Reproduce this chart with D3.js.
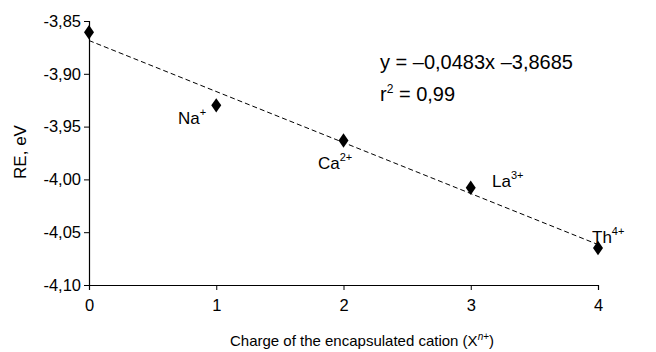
<!DOCTYPE html>
<html><head><meta charset="utf-8">
<script src="https://cdn.jsdelivr.net/npm/d3@7"></script>
<style>body{margin:0;background:#fff}svg{display:block;font-family:"Liberation Sans",Arial,sans-serif}</style>
</head><body><svg id="c" width="656" height="352"></svg>
<script>
const charges = [0, 1, 2, 3, 4];
const reValues = [-3.8607, -3.9299, -3.9632, -4.0079, -4.065];
const cationNames = ["", "Na", "Ca", "La", "Th"];
const cationCharges = ["", "+", "2+", "3+", "4+"];
const yTicks = [-3.85, -3.90, -3.95, -4.00, -4.05, -4.10];
const xTicks = [0, 1, 2, 3, 4];
const slope = -0.0483, intercept = -3.8685;

const svg = d3.select("#c");
const x = d3.scaleLinear().domain([0, 4]).range([89, 598]);
const y = d3.scaleLinear().domain([-3.85, -4.10]).range([21, 285]);
const fmt = v => v.toFixed(2).replace(".", ",");

const ya = svg.append("g").attr("transform", "translate(89,0)")
  .call(d3.axisLeft(y).tickValues(yTicks).tickFormat(fmt).tickSize(5).tickPadding(3));
const xa = svg.append("g").attr("transform", "translate(0,285)")
  .call(d3.axisBottom(x).tickValues(xTicks).tickFormat(d3.format("d")).tickSize(5).tickPadding(9));
[ya, xa].forEach(a => {
  a.select(".domain").attr("stroke", "#000").attr("stroke-width", 1.2);
  a.selectAll(".tick line").attr("stroke", "#000");
  a.selectAll("text").attr("font-size", 16.5).attr("fill", "#000").attr("font-family", "Liberation Sans, Arial, sans-serif");
});

svg.append("line")
  .attr("x1", x(0)).attr("y1", y(intercept))
  .attr("x2", x(4)).attr("y2", y(intercept + slope * 4))
  .attr("stroke", "#000").attr("stroke-width", 1).attr("stroke-dasharray", "5,3");

svg.selectAll("path.pt").data(charges).enter().append("path")
  .attr("class", "pt")
  .attr("d", d3.symbol(d3.symbolDiamond, 60))
  .attr("transform", (d, i) => `translate(${x(d)},${y(reValues[i])}) scale(1.2,1)`)
  .attr("fill", "#000");

const labelPos = [null, [178, 124], [318, 169], [492, 187], [592, 243]];
cationNames.forEach((n, i) => {
  if (!n) return;
  const t = svg.append("text").attr("x", labelPos[i][0]).attr("y", labelPos[i][1])
    .attr("font-size", 17).attr("fill", "#000");
  t.append("tspan").text(n);
  t.append("tspan").attr("dy", -8).attr("font-size", 11).text(cationCharges[i]);
});

svg.append("text").attr("x", 380).attr("y", 69).attr("font-size", 20).text("y = \u20130,0483x \u20133,8685");
const r = svg.append("text").attr("x", 380).attr("y", 101).attr("font-size", 20);
r.append("tspan").text("r");
r.append("tspan").attr("dy", -8).attr("font-size", 12).text("2");
r.append("tspan").attr("dy", 8).text(" = 0,99");

svg.append("text").attr("transform", "translate(26,152) rotate(-90)")
  .attr("text-anchor", "middle").attr("font-size", 17).text("RE, eV");
const xt = svg.append("text").attr("x", 362).attr("y", 346).attr("text-anchor", "middle").attr("font-size", 15);
xt.append("tspan").text("Charge of the encapsulated cation (X");
xt.append("tspan").attr("dy", -6).attr("font-size", 10).attr("font-style", "italic").text("n");
xt.append("tspan").attr("font-size", 10).text("+");
xt.append("tspan").attr("dy", 6).text(")");
</script></body></html>
